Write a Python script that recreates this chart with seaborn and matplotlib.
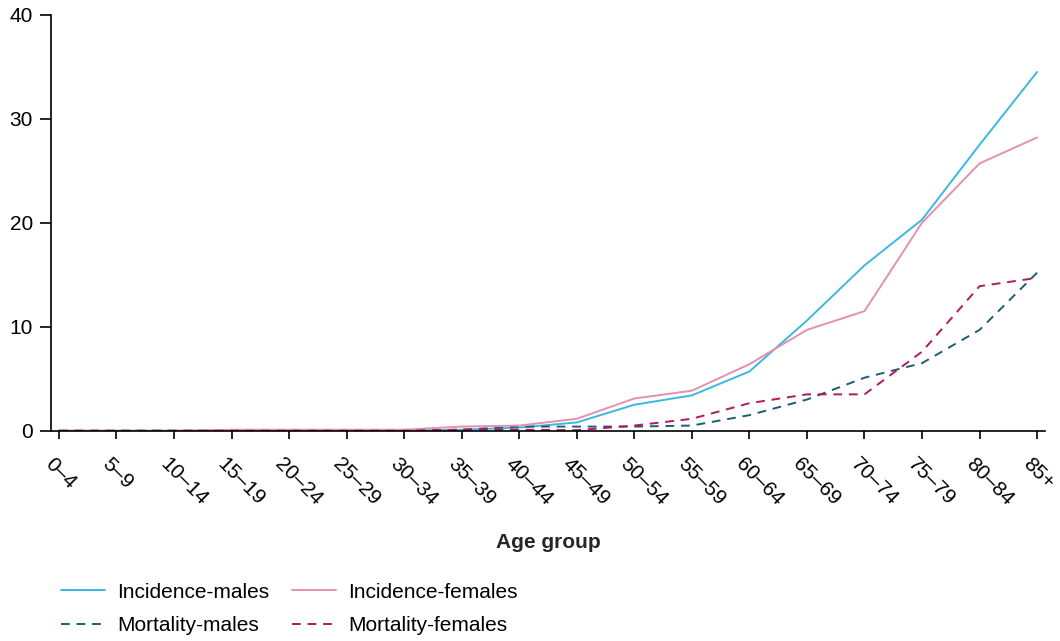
"""
Incidence and mortality rates by age group, males and females.
"""

import numpy as np
import pandas as pd
import seaborn as sns
import matplotlib
matplotlib.use("Agg")
import matplotlib.pyplot as plt
from matplotlib.transforms import ScaledTranslation

###
#Data

AGE_GROUPS = ["0\u20134", "5\u20139", "10\u201314", "15\u201319", "20\u201324", "25\u201329",
              "30\u201334", "35\u201339", "40\u201344", "45\u201349", "50\u201354", "55\u201359",
              "60\u201364", "65\u201369", "70\u201374", "75\u201379", "80\u201384", "85+"]

INC_MALES = [0, 0, 0, 0, 0, 0, 0, 0.1, 0.3, 0.8, 2.5, 3.4, 5.7, 10.6, 15.9, 20.3, 27.5, 34.5]
INC_FEMALES = [0, 0, 0, 0.1, 0.1, 0.1, 0.1, 0.4, 0.5, 1.15, 3.1, 3.85, 6.4, 9.7, 11.5, 20.0, 25.7, 28.2]
MORT_MALES = [0, 0, 0, 0, 0, 0, 0, 0.1, 0.4, 0.4, 0.4, 0.5, 1.5, 3.0, 5.1, 6.5, 9.7, 15.2]
MORT_FEMALES = [0, 0, 0, 0, 0, 0, 0, 0.1, 0.1, 0.05, 0.5, 1.15, 2.65, 3.5, 3.5, 7.6, 13.9, 14.7]

SERIES = ["Incidence-males", "Mortality-males", "Incidence-females", "Mortality-females"]
COLOURS = {"Incidence-males": "#3bb8e2", "Incidence-females": "#e690ad",
           "Mortality-males": "#1b5e75", "Mortality-females": "#b2185c"}
DASHED = {"Incidence-males": False, "Incidence-females": False,
          "Mortality-males": True, "Mortality-females": True}

sns.set_style("ticks")
plt.rcParams["font.family"] = ["Liberation Sans", "DejaVu Sans"]
plt.rcParams["text.color"] = "black"
plt.rcParams["xtick.color"] = "black"
plt.rcParams["ytick.color"] = "black"


def build_frame():
    """Long-form table for seaborn."""
    values = {"Incidence-males": INC_MALES, "Incidence-females": INC_FEMALES,
              "Mortality-males": MORT_MALES, "Mortality-females": MORT_FEMALES}
    rows = []
    for name in SERIES:
        for i, v in enumerate(values[name]):
            rows.append({"pos": i, "rate": v, "series": name})
    return pd.DataFrame(rows)


def main():
    df = build_frame()
    fig = plt.figure(figsize=(10.6, 6.41), dpi=100)
    ax = fig.add_axes([0.048, 0.328, 0.938, 0.649])

    for name in SERIES:
        sub = df[df["series"] == name]
        ls = (0, (4.5, 3.5)) if DASHED[name] else "-"
        sns.lineplot(data=sub, x="pos", y="rate", ax=ax, color=COLOURS[name],
                     linewidth=1.4, linestyle=ls, label=name)

    ax.set_xlim(-0.14, len(AGE_GROUPS) - 1 + 0.14)
    ax.set_ylim(0, 40)
    ax.set_yticks([0, 10, 20, 30, 40])
    ax.set_xticks(np.arange(len(AGE_GROUPS)))
    ax.tick_params(axis="y", labelsize=15, length=8, width=1.2, pad=5, labelcolor="black")
    ax.tick_params(axis="x", labelsize=15, length=6, width=1.2, pad=15.8, labelcolor="black")
    ax.set_xticklabels(AGE_GROUPS)
    shift = ScaledTranslation(-0.11, 0, fig.dpi_scale_trans)
    for lab in ax.get_xticklabels():
        lab.set_rotation(-45)
        lab.set_rotation_mode("anchor")
        lab.set_ha("left")
        lab.set_va("center")
        lab.set_transform(lab.get_transform() + shift)
    for side in ["left", "bottom"]:
        ax.spines[side].set_linewidth(1.2)
        ax.spines[side].set_color("black")
    sns.despine(ax=ax)
    ax.set_ylabel("")
    ax.set_xlabel("Age group", fontsize=15, fontweight="bold")
    ax.xaxis.set_label_coords(0.5, -0.245)

    ax.legend(ncol=2, frameon=False, loc="upper left", fontsize=15,
              bbox_to_anchor=(0.0575, 0.091), bbox_transform=fig.transFigure,
              borderpad=0, borderaxespad=0, handlelength=2.1, handletextpad=0.6,
              columnspacing=1.1, labelspacing=0.69)

    fig.savefig("out.png", dpi=100)


if __name__ == "__main__":
    main()
